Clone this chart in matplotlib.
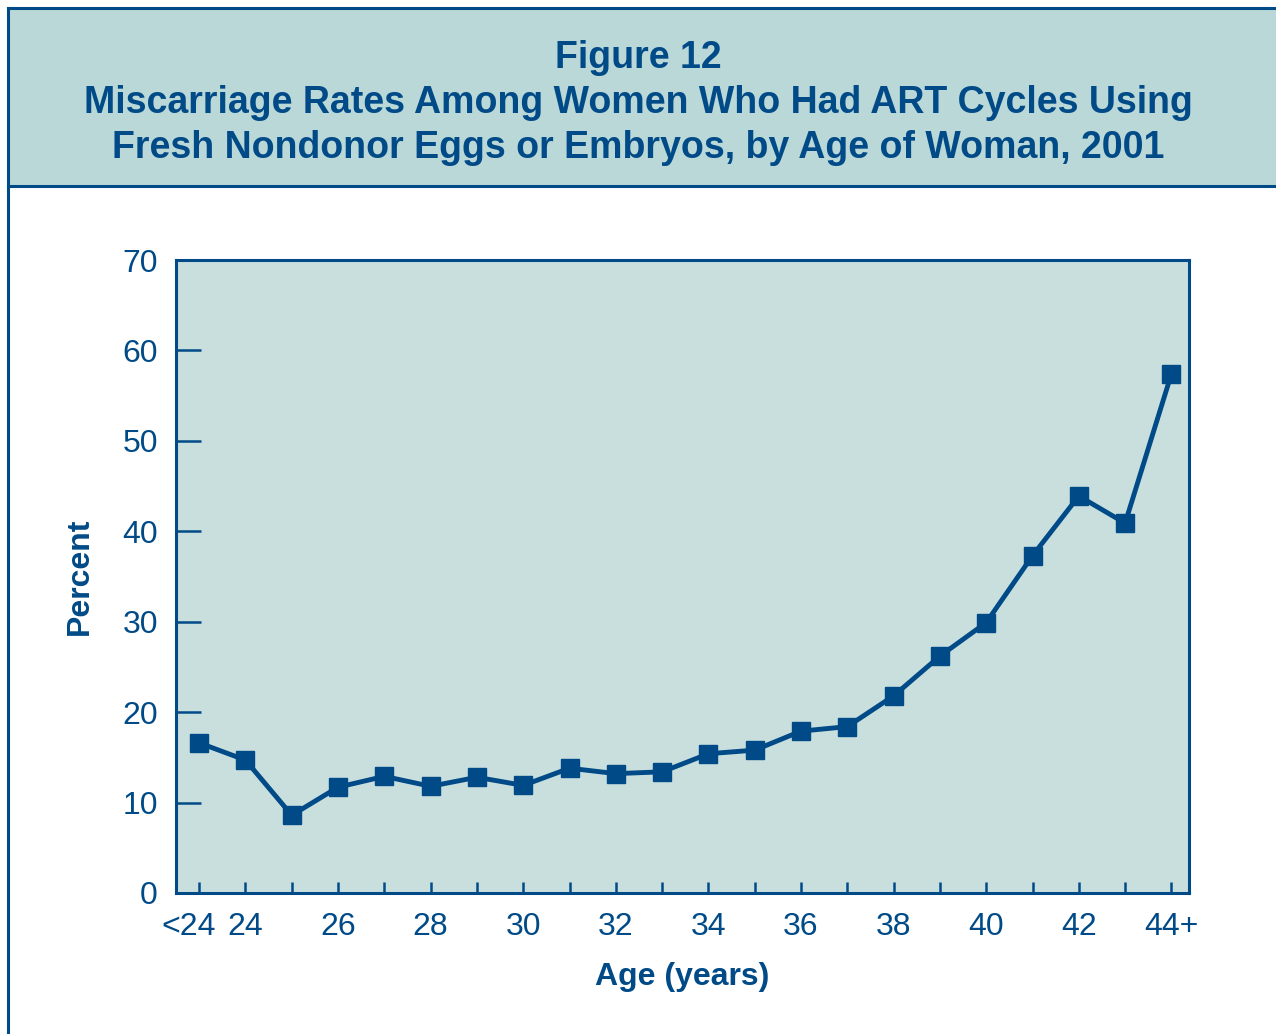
import matplotlib.pyplot as plt
import matplotlib.transforms as mtransforms
from matplotlib.patches import Rectangle
from matplotlib.lines import Line2D

# Data
age_labels = ["<24", "24", "25", "26", "27", "28", "29", "30", "31", "32", "33",
              "34", "35", "36", "37", "38", "39", "40", "41", "42", "43", "44+"]
miscarriage_pct = [16.6, 14.7, 8.6, 11.7, 12.9, 11.8, 12.8, 11.9, 13.8, 13.2, 13.4,
                   15.4, 15.8, 17.9, 18.4, 21.8, 26.2, 29.9, 37.3, 43.9, 40.9, 57.4]
shown_tick_labels = ["<24", "24", "26", "28", "30", "32", "34", "36", "38", "40", "42", "44+"]
y_ticks = [0, 10, 20, 30, 40, 50, 60, 70]

navy = "#004a87"
band = "#bad8d7"
plot_bg = "#c9dfde"

plt.rcParams["font.family"] = ["Liberation Sans", "DejaVu Sans"]

fig = plt.figure(figsize=(12.76, 10.34), dpi=100)
W, H = 1276, 1034

# Title band and frame lines (figure pixel coords -> fractions)
fig.patches.append(Rectangle((8 / W, 1 - 186 / H), 1 - 8 / W, (186 - 8) / H,
                             transform=fig.transFigure, facecolor=band,
                             edgecolor="none", zorder=0))
for xs, ys in [([8, 8], [8, H]), ([8, W], [8, 8]), ([8, W], [186, 186])]:
    fig.lines.append(Line2D([x / W for x in xs], [1 - y / H for y in ys],
                            transform=fig.transFigure, color=navy, lw=2.2))

title_lines = ["Figure 12",
               "Miscarriage Rates Among Women Who Had ART Cycles Using",
               "Fresh Nondonor Eggs or Embryos, by Age of Woman, 2001"]
for line, ypix in zip(title_lines, [58, 103, 148]):
    fig.text(0.5, 1 - ypix / H, line, ha="center", va="center",
             fontsize=27, fontweight="bold", color=navy)

ax = fig.add_axes([176 / W, 141 / H, (1189 - 176) / W, (893 - 260) / H])
ax.set_facecolor(plot_bg)

x = list(range(len(age_labels)))
ax.plot(x, miscarriage_pct, color=navy, lw=3.5, marker="s", markersize=13,
        markeredgecolor=navy, clip_on=False, zorder=3)

ax.set_xlim(-0.5, 21.38)
ax.set_ylim(0, 70)
ax.set_yticks(y_ticks)
ax.set_xticks(x)
ax.set_xticklabels([lab if lab in shown_tick_labels else "" for lab in age_labels])

for side in ["left", "right", "top", "bottom"]:
    ax.spines[side].set_color(navy)
    ax.spines[side].set_linewidth(2.2)

ax.tick_params(axis="y", direction="in", length=18, width=1.8, color=navy,
               labelcolor=navy, labelsize=23, pad=13)
ax.tick_params(axis="x", direction="in", length=8, width=1.8, color=navy,
               labelcolor=navy, labelsize=23, pad=14)

# nudge "<24" left so it doesn't run into "24"
first = ax.get_xticklabels()[0]
first.set_transform(first.get_transform()
                    + mtransforms.ScaledTranslation(-0.11, 0, fig.dpi_scale_trans))

ax.set_ylabel("Percent", fontsize=23, fontweight="bold", color=navy, labelpad=20)
ax.set_xlabel("Age (years)", fontsize=23, fontweight="bold", color=navy, labelpad=14)

fig.savefig("out.png", dpi=100)
plt.close()
